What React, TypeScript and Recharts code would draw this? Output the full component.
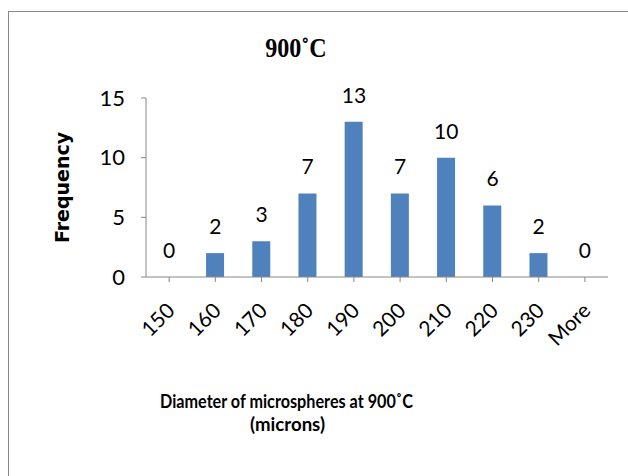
import { Bar, ComposedChart, LabelList, Line, XAxis, YAxis, Label } from "recharts";

const categories = ["150", "160", "170", "180", "190", "200", "210", "220", "230", "More"];
const frequencies = [0, 2, 3, 7, 13, 7, 10, 6, 2, 0];
const yTicks = [0, 5, 10, 15];

const data = categories.map((name, i) => ({ name, value: frequencies[i] }));

const FONT = "Lato, 'Open Sans', sans-serif";

function AngledTick({ x, y, payload }: any) {
    return (
        <g transform={`translate(${x + 7},${y})`}>
            <text x={0} y={0} textAnchor="end" fontSize={21} fill="#000" fontFamily={FONT} transform="rotate(-45)">
                {payload.value}
            </text>
        </g>
    );
}

// two-line axis title, squeezed to the reference width
function AxisTitle() {
    return (
        <g fontSize={18} fontWeight="bold" fill="#000" fontFamily={FONT}>
            <text x={160} y={408} textLength={253} lengthAdjust="spacingAndGlyphs">
                Diameter of microspheres at 900˚C
            </text>
            <text x={250} y={431} textLength={75} lengthAdjust="spacingAndGlyphs">
                (microns)
            </text>
        </g>
    );
}

export default function App() {
    return (
        <div style={{ position: "absolute", left: 0, top: 0, width: 628, height: 476, background: "#fff" }}>
            <div
                style={{
                    position: "absolute",
                    left: 8,
                    top: 11,
                    width: 640,
                    height: 480,
                    borderTop: "1.5px solid #888",
                    borderLeft: "1.5px solid #888",
                }}
            />
            <div
                style={{
                    position: "absolute",
                    left: 0,
                    width: 592,
                    top: 32,
                    textAlign: "center",
                    fontFamily: "'Liberation Serif', 'Times New Roman', serif",
                    fontWeight: "bold",
                    fontSize: 28,
                    lineHeight: "32px",
                    transform: "scaleX(0.86)",
                }}
            >
                900˚C
            </div>
            <ComposedChart
                width={628}
                height={476}
                data={data}
                margin={{ top: 98, right: 20, bottom: 0, left: 0 }}
                barCategoryGap="30%"
                style={{ position: "absolute", left: 0, top: 0 }}
            >
                <XAxis
                    dataKey="name"
                    height={199}
                    interval={0}
                    tickSize={5}
                    stroke="#888"
                    tick={<AngledTick />}
                    tickMargin={30}
                >
                    <Label content={<AxisTitle />} />
                </XAxis>
                <YAxis
                    width={146}
                    domain={[0, 15]}
                    ticks={yTicks}
                    tickSize={5}
                    tickMargin={16}
                    stroke="#888"
                    tick={{ fill: "#000", fontSize: 22, fontFamily: FONT }}
                >
                    <Label
                        value="Frequency"
                        angle={-90}
                        position="insideLeft"
                        offset={0}
                        style={{
                            textAnchor: "middle",
                            fontWeight: "bold",
                            fontSize: 19,
                            fill: "#000",
                            fontFamily: "'DejaVu Sans', sans-serif",
                        }}
                        dx={62}
                    />
                </YAxis>
                <Bar dataKey="value" fill="#4F81BD" isAnimationActive={false} />
                <Line
                    dataKey="value"
                    stroke="none"
                    dot={false}
                    activeDot={false}
                    legendType="none"
                    isAnimationActive={false}
                >
                    <LabelList
                        dataKey="value"
                        position="top"
                        offset={19}
                        style={{ fill: "#000", fontSize: 21, fontFamily: FONT }}
                    />
                </Line>
            </ComposedChart>
        </div>
    );
}
